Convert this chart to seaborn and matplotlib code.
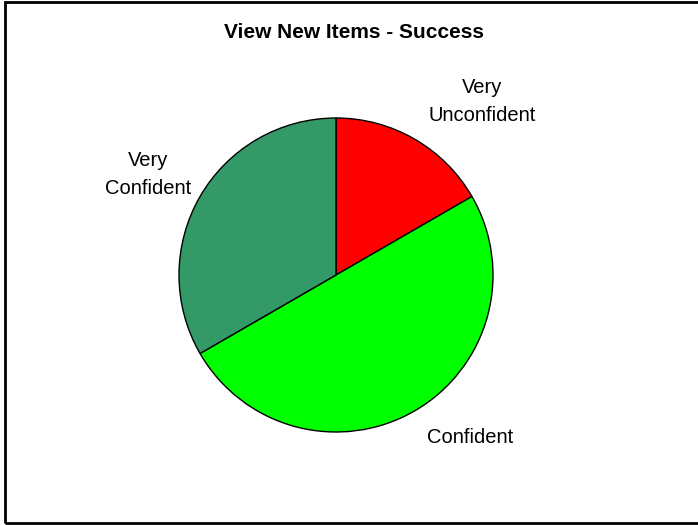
import matplotlib
matplotlib.use("Agg")
import matplotlib.pyplot as plt
from matplotlib.patches import Rectangle
import seaborn as sns

# Survey responses for the "View New Items" task
categories = ["Very Unconfident", "Confident", "Very Confident"]
counts = [1, 3, 2]
label_text = ["Very\nUnconfident", "Confident", "Very\nConfident"]
colors = ["#FF0000", "#00FF00", "#339966"]

sns.set_style("white")
plt.rcParams["font.family"] = ["Liberation Sans", "DejaVu Sans"]
plt.rcParams["text.color"] = "black"

W, H = 698, 525
fig = plt.figure(figsize=(W / 100, H / 100), dpi=100)

# Outer chart frame
fig.patches.append(Rectangle((5 / W, 2 / H), (W + 10) / W, (521) / H,
                             transform=fig.transFigure, fill=False,
                             edgecolor="black", linewidth=2, clip_on=False))

cx, cy, r = 336, 250, 157
ax = fig.add_axes([(cx - r) / W, (cy - r) / H, 2 * r / W, 2 * r / H])
wedges, _ = ax.pie(counts, colors=sns.color_palette(colors), startangle=90,
                   counterclock=False, radius=1.0,
                   wedgeprops=dict(edgecolor="black", linewidth=1.0))
ax.set_xlim(-1, 1)
ax.set_ylim(-1, 1)
ax.set_aspect("equal")
ax.axis("off")

label_pos = [(0.93, 1.108), (0.853, -1.038), (-1.197, 0.637)]
for txt, (x, y) in zip(label_text, label_pos):
    ax.text(x, y, txt, ha="center", va="center", fontsize=14.5,
            color="black", linespacing=1.6, clip_on=False)

fig.text(354 / W, 1 - 33 / H, "View New Items - Success", ha="center",
         va="center", fontsize=15, fontweight="bold", color="black")

fig.savefig("out.png", dpi=100)
